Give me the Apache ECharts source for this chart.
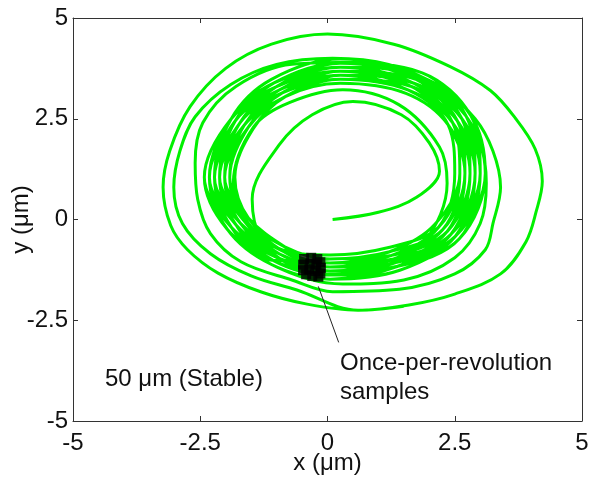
<!DOCTYPE html>
<html><head><meta charset="utf-8">
<script src="https://cdn.jsdelivr.net/npm/echarts@6/dist/echarts.min.js"></script>
<style>html,body{margin:0;padding:0;background:#fff}#c{width:589px;height:479px}</style>
</head><body><div id="c"></div>
<script>
// axis ticks
const xTicks = [-5, -2.5, 0, 2.5, 5];
const yTicks = [-5, -2.5, 0, 2.5, 5];

// trajectory pieces (x, y in µm)
const orbitStart = [[0.1,0.0],[1.0,0.18],[1.75,0.55],[2.2,1.2],[2.0,1.9],[1.45,2.6],[0.5,2.93],[-0.3,2.6],[-0.95,1.85],[-1.48,0.5],[-1.3,-0.5],[-0.7,-1.15],[0.0,-1.36]];
const orbitInner = [[1.0,-1.2],[1.9,-0.55],[2.35,0.9],[2.2,1.8],[1.4,2.85],[0.3,3.22],[-0.75,2.9],[-1.45,2.3],[-1.85,0.9],[-1.55,-0.1],[-0.9,-0.75]];
const band1 = [[0.05,-0.88],[1.18,-0.70],[2.19,-0.18],[2.6,1.15],[2.46,2.4],[1.65,3.3],[0.25,3.48],[-0.83,3.05],[-1.46,2.25],[-1.82,1.05],[-1.55,0.03],[-0.84,-0.68]];
const band2 = [[0.05,-0.98],[1.22,-0.80],[2.27,-0.24],[2.7,1.15],[2.55,2.45],[1.7,3.38],[0.25,3.58],[-0.89,3.14],[-1.55,2.3],[-1.92,1.05],[-1.64,-0.03],[-0.9,-0.77]];
const band3 = [[0.05,-1.08],[1.26,-0.89],[2.35,-0.3],[2.8,1.15],[2.64,2.5],[1.75,3.47],[0.25,3.68],[-0.94,3.22],[-1.63,2.35],[-2.02,1.05],[-1.72,-0.08],[-0.95,-0.85]];
const band4 = [[0.05,-1.18],[1.3,-0.98],[2.43,-0.36],[2.9,1.15],[2.73,2.55],[1.81,3.55],[0.25,3.78],[-1.0,3.3],[-1.72,2.4],[-2.12,1.05],[-1.8,-0.13],[-1.0,-0.94]];
const band5 = [[0.05,-1.28],[1.34,-1.07],[2.51,-0.42],[3.0,1.15],[2.81,2.59],[1.86,3.64],[0.25,3.88],[-1.05,3.39],[-1.81,2.45],[-2.22,1.05],[-1.89,-0.19],[-1.06,-1.02]];
const band6 = [[0.05,-1.38],[1.38,-1.16],[2.59,-0.48],[3.1,1.15],[2.73,2.55],[1.81,3.55],[0.25,3.98],[-1.11,3.47],[-1.89,2.5],[-2.32,1.05],[-1.97,-0.24],[-1.11,-1.11]];
const band7 = [[0.05,-1.48],[1.38,-1.16],[2.43,-0.36],[2.8,1.15],[2.46,2.4],[1.65,3.3],[0.25,3.68],[-1.0,3.3],[-1.81,2.45],[-2.12,1.05],[-1.8,-0.13],[-1.06,-1.02]];
const band8 = [[0.05,-1.38],[1.34,-1.07],[2.35,-0.3],[2.8,1.15],[2.46,2.4],[1.59,3.21],[0.25,3.48],[-0.89,3.14],[-1.63,2.35],[-2.12,1.05],[-1.72,-0.08],[-1.0,-0.94]];
const band9 = [[0.05,-1.28],[1.3,-0.98],[2.27,-0.24],[2.7,1.15],[2.37,2.35],[1.54,3.13],[0.25,3.38],[-0.83,3.05],[-1.55,2.3],[-2.02,1.05],[-1.64,-0.03],[-0.95,-0.85]];
const band10 = [[0.05,-1.18],[1.26,-0.89],[2.19,-0.18],[2.5,1.15],[2.37,2.35],[1.59,3.21],[0.25,3.58],[-0.89,3.14],[-1.72,2.4],[-2.12,1.05],[-1.64,-0.03],[-0.9,-0.77]];
const band11 = [[0.05,-1.08],[1.22,-0.80],[2.11,-0.12],[2.6,1.15],[2.46,2.4],[1.7,3.38],[0.25,3.68],[-1.0,3.3],[-1.81,2.45],[-2.12,1.05],[-1.72,-0.08],[-0.95,-0.85]];
const band12 = [[0.05,-1.18],[1.34,-1.07],[2.43,-0.36],[3.0,1.15],[2.81,2.59],[1.86,3.64],[0.25,3.88],[-1.05,3.39],[-1.81,2.45],[-2.32,1.05],[-1.89,-0.19],[-1.11,-1.11]];
const band13 = [[0.05,-1.48],[1.38,-1.16],[2.51,-0.42],[2.9,1.15],[2.64,2.5],[1.7,3.38],[0.25,3.78],[-1.0,3.3],[-1.89,2.5],[-2.42,1.05],[-1.97,-0.24],[-1.06,-1.02]];
const band14 = [[0.05,-1.38],[1.38,-1.16],[2.43,-0.36],[2.9,1.15],[2.55,2.45],[1.65,3.3],[0.25,3.68],[-0.94,3.22],[-1.81,2.45],[-2.22,1.05],[-1.89,-0.19],[-1.0,-0.94]];
const band15 = [[0.05,-1.28],[1.34,-1.07],[2.35,-0.3],[2.8,1.15],[2.46,2.4],[1.65,3.3],[0.25,3.48],[-0.89,3.14],[-1.72,2.4],[-2.12,1.05],[-1.64,-0.03],[-0.95,-0.85]];
const band16 = [[0.05,-1.18],[1.34,-1.07],[2.51,-0.42],[3.1,1.15],[2.81,2.59],[1.81,3.55],[0.25,3.78],[-1.0,3.3],[-1.89,2.5],[-2.42,1.05],[-1.97,-0.24],[-1.11,-1.11]];
const band17 = [[0.05,-1.48],[1.38,-1.16],[2.43,-0.36],[2.8,1.15],[2.64,2.5],[1.81,3.55],[0.25,3.98],[-1.11,3.47],[-1.89,2.5],[-2.22,1.05],[-1.72,-0.08],[-0.9,-0.77]];
const band18 = [[0.05,-1.08],[1.3,-0.98],[2.43,-0.36],[3.0,1.15],[2.73,2.55],[1.75,3.47],[0.25,3.68],[-0.89,3.14],[-1.63,2.35],[-1.92,1.05],[-1.55,0.03],[-0.9,-0.77]];
const band19 = [[0.05,-1.18],[1.26,-0.89],[2.27,-0.24],[2.6,1.15],[2.46,2.4],[1.7,3.38],[0.25,3.78],[-1.05,3.39],[-1.89,2.5],[-2.22,1.05],[-1.8,-0.13],[-0.95,-0.85]];
const band20 = [[0.05,-1.28],[1.38,-1.16],[2.51,-0.42],[2.9,1.15],[2.55,2.45],[1.75,3.47],[0.25,3.88],[-1.05,3.39],[-1.81,2.45],[-2.12,1.05],[-1.8,-0.13],[-1.06,-1.02]];
const band21 = [[0.05,-0.98],[1.26,-0.89],[2.35,-0.3],[2.7,1.15],[2.46,2.4],[1.59,3.21],[0.25,3.58],[-0.94,3.22],[-1.72,2.4],[-2.02,1.05],[-1.55,0.03],[-0.84,-0.68]];
const band22 = [[0.05,-1.28],[1.38,-1.16],[2.59,-0.48],[3.0,1.15],[2.64,2.5],[1.7,3.38],[0.25,3.68],[-1.0,3.3],[-1.89,2.5],[-2.32,1.05],[-1.8,-0.13],[-1.0,-0.94]];
const band23 = [[0.05,-1.18],[1.3,-0.98],[2.43,-0.36],[2.8,1.15],[2.55,2.45],[1.75,3.47],[0.25,3.88],[-1.0,3.3],[-1.72,2.4],[-2.22,1.05],[-1.72,-0.08],[-0.9,-0.77]];
const band24 = [[0.05,-1.08],[1.3,-0.98],[2.43,-0.36],[3.0,1.15],[2.64,2.5],[1.7,3.38],[0.25,3.58],[-0.83,3.05],[-1.63,2.35],[-2.12,1.05],[-1.8,-0.13],[-1.06,-1.02]];
const band25 = [[0.05,-1.38],[1.34,-1.07],[2.35,-0.3],[2.7,1.15],[2.37,2.35],[1.65,3.3],[0.25,3.68],[-1.0,3.3],[-1.89,2.5],[-2.42,1.05],[-1.89,-0.19],[-1.0,-0.94]];
const band26 = [[0.05,-1.48],[1.42,-1.26],[2.51,-0.42],[2.9,1.15],[2.73,2.55],[1.86,3.64],[0.25,3.88],[-1.0,3.3],[-1.72,2.4],[-2.22,1.05],[-1.89,-0.19],[-1.11,-1.11]];
const ring3 = [[0.3,-1.6],[1.5,-1.5],[2.5,-0.95],[3.0,-0.1],[3.12,0.9],[3.0,1.9],[2.6,2.75],[1.8,3.5],[0.6,3.9],[-0.7,3.85],[-1.8,3.3],[-2.45,2.4],[-2.6,1.4],[-2.55,0.5],[-2.3,-0.35],[-1.7,-1.05],[-0.7,-1.5]];
const ring2 = [[0.1,-1.79],[1.41,-1.73],[2.5,-1.35],[3.1,-0.75],[3.25,-0.1],[3.4,0.8],[3.25,1.7],[2.9,2.5],[2.2,3.3],[1.2,3.85],[0.1,4.0],[-1.0,3.85],[-1.9,3.35],[-2.6,2.55],[-2.9,1.7],[-3.02,0.8],[-2.85,-0.1],[-2.3,-0.85],[-1.5,-1.4],[-0.6,-1.75]];
const ring1 = [[0.6,-2.25],[1.6,-2.12],[2.5,-1.85],[3.4,-1.35],[3.9,-0.55],[4.1,0.2],[4.22,0.95],[4.08,1.75],[3.7,2.5],[3.2,3.2],[2.4,3.8],[1.3,4.35],[0.0,4.6],[-1.1,4.35],[-2.0,3.75],[-2.7,2.8],[-3.1,1.7],[-3.23,0.8],[-3.08,-0.15],[-2.75,-0.75],[-2.15,-1.33],[-1.3,-1.8],[-0.4,-2.1],[0.6,-2.25],[1.5,-2.15]];

// once-per-revolution samples
const samples = [[-0.46,-0.98],[-0.32,-0.95],[-0.2,-0.98],[-0.14,-1.06],[-0.48,-1.12],[-0.34,-1.1],[-0.22,-1.12],[-0.13,-1.2],[-0.48,-1.26],[-0.36,-1.24],[-0.24,-1.28],[-0.14,-1.34],[-0.42,-1.36],[-0.3,-1.4],[-0.18,-1.42]];

// arrow (from text to samples), in µm
const arrowFrom = [0.22, -3.05];
const arrowTo = [-0.18, -1.66];

const orbit = [].concat(orbitStart, orbitInner, band1, band2, band3, band4, band5, band6, band7,
  band8, band9, band10, band11, band12, band13, band14, band15, band16, band17, band18, band19, band20,
  band21, band22, band23, band24, band25, band26, ring3, ring2, ring1);

const FONT = 'Liberation Sans, Arial, Helvetica, sans-serif';
const AX = '#333';
const chart = echarts.init(document.getElementById('c'), null, {renderer: 'canvas'});

function axisBase(extra) {
  return Object.assign({
    type: 'value', min: -5, max: 5, interval: 2.5,
    axisLine: {show: true, onZero: false, lineStyle: {color: AX, width: 1}},
    axisTick: {show: true, inside: true, length: 5, lineStyle: {color: AX}},
    splitLine: {show: false}
  }, extra);
}

chart.setOption({
  animation: false,
  backgroundColor: '#fff',
  grid: {left: 73, right: 7, top: 18, bottom: 58, containLabel: false, outerBoundsMode: 'none'},
  xAxis: [
    axisBase({position: 'bottom',
      name: 'x (\u03bcm)', nameLocation: 'middle', nameGap: 30, nameMoveOverlap: false,
      nameTextStyle: {fontFamily: FONT, fontSize: 24, color: '#111'},
      axisLabel: {show: true, margin: 10, fontFamily: FONT, fontSize: 24, color: '#111',
        showMinLabel: true, showMaxLabel: true}}),
    axisBase({position: 'top', axisLabel: {show: false}})
  ],
  yAxis: [
    axisBase({position: 'left',
      name: 'y (\u03bcm)', nameLocation: 'middle', nameGap: 40, nameMoveOverlap: false,
      nameTextStyle: {fontFamily: FONT, fontSize: 24, color: '#111'},
      axisLabel: {show: true, margin: 5, fontFamily: FONT, fontSize: 24, color: '#111',
        showMinLabel: true, showMaxLabel: true}}),
    axisBase({position: 'right', axisLabel: {show: false}})
  ],
  series: [
    {
      type: 'line', data: orbit, smooth: 0.35, showSymbol: false, symbol: 'none',
      lineStyle: {color: '#00f000', width: 3}, clip: true, z: 2
    },
    {
      type: 'scatter', data: samples, symbol: 'rect', symbolSize: 10,
      itemStyle: {color: '#000'}, z: 3,
      markLine: {
        silent: true, symbol: ['none', 'arrow'], symbolSize: [0, 9],
        lineStyle: {color: '#222', width: 1, type: 'solid'},
        label: {show: false},
        data: [[{coord: arrowFrom}, {coord: arrowTo}]]
      }
    }
  ],
  graphic: [
    {type: 'text', left: 340, top: 351, style: {text: 'Once-per-revolution', font: '24px ' + FONT, fill: '#111'}},
    {type: 'text', left: 340, top: 380, style: {text: 'samples', font: '24px ' + FONT, fill: '#111'}},
    {type: 'text', left: 105, top: 367, style: {text: '50 \u03bcm (Stable)', font: '24px ' + FONT, fill: '#111'}}
  ]
});
</script></body></html>
